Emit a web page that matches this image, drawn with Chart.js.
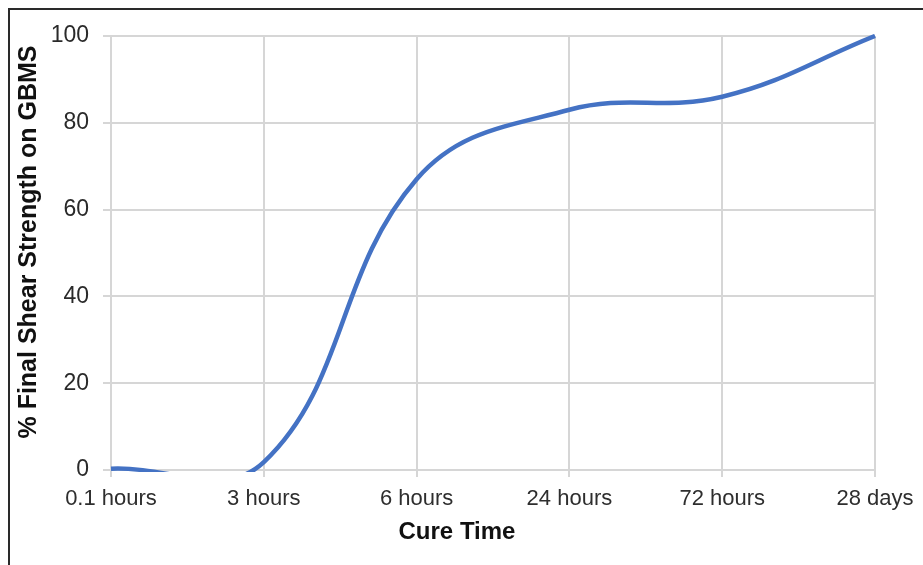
<!DOCTYPE html>
<html>
<head>
<meta charset="utf-8">
<script src="https://cdn.jsdelivr.net/npm/chart.js@4.4.1/dist/chart.umd.min.js"></script>
<style>
  html, body { margin: 0; padding: 0; background: #fff; }
  #wrap { position: relative; width: 923px; height: 565px; }
  #frame {
    position: absolute; left: 8px; top: 8px; right: 0; bottom: 0;
    border-top: 2px solid #2a2a2a; border-left: 2px solid #2a2a2a;
    pointer-events: none;
  }
</style>
</head>
<body>
<div id="wrap">
  <canvas id="cureChart" width="923" height="565"></canvas>
  <div id="frame"></div>
</div>
<script>
// Cure time vs % final shear strength
const cureTimes = ['0.1 hours', '3 hours', '6 hours', '24 hours', '72 hours', '28 days'];
const strength = [0.3, 1.8, 67, 83, 86, 100];
const yTicks = [0, 20, 40, 60, 80, 100];

const xTitle = 'Cure Time';
const yTitle = '% Final Shear Strength on GBMS';

// axis titles drawn by hand so they can sit where Excel put them
const axisTitles = {
  id: 'axisTitles',
  afterDraw(chart) {
    const ctx = chart.ctx;
    ctx.save();
    ctx.fillStyle = '#111';
    ctx.textAlign = 'center';
    ctx.textBaseline = 'middle';
    ctx.font = 'bold 24px "Liberation Sans", Arial, sans-serif';
    ctx.fillText(xTitle, 457, 532);
    ctx.translate(29, 242);
    ctx.rotate(-Math.PI / 2);
    ctx.font = 'bold 25px "Liberation Sans", Arial, sans-serif';
    ctx.fillText(yTitle, 0, 0);
    ctx.restore();
  }
};

const ctx = document.getElementById('cureChart').getContext('2d');
new Chart(ctx, {
  type: 'line',
  data: {
    labels: cureTimes,
    datasets: [{
      data: strength,
      borderColor: '#4472C4',
      borderWidth: 4.5,
      pointRadius: 0,
      tension: 0.4,
      capBezierPoints: false,
      fill: false,
      clip: 2
    }]
  },
  options: {
    responsive: false,
    animation: false,
    layout: { padding: { left: 0, right: 48, top: 36, bottom: 0 } },
    plugins: { legend: { display: false }, tooltip: { enabled: false } },
    scales: {
      x: {
        offset: false,
        afterFit: s => { s.height = 95; },
        grid: { color: '#d6d6d6', lineWidth: 2, tickLength: 7 },
        border: { color: '#d6d6d6', width: 2 },
        ticks: {
          color: '#2e2e2e', padding: 9, maxRotation: 0,
          font: { family: '"Liberation Sans", Arial, sans-serif', size: 22 }
        }
      },
      y: {
        min: 0, max: 100,
        afterFit: s => { s.width = 111; },
        afterBuildTicks: s => { s.ticks = yTicks.map(v => ({ value: v })); },
        grid: { color: '#d6d6d6', lineWidth: 2, tickLength: 8 },
        border: { color: '#d6d6d6', width: 2 },
        ticks: {
          color: '#2a2a2a', padding: 14,
          font: { family: '"Liberation Sans", Arial, sans-serif', size: 23 }
        }
      }
    }
  },
  plugins: [axisTitles]
});
</script>
</body>
</html>
